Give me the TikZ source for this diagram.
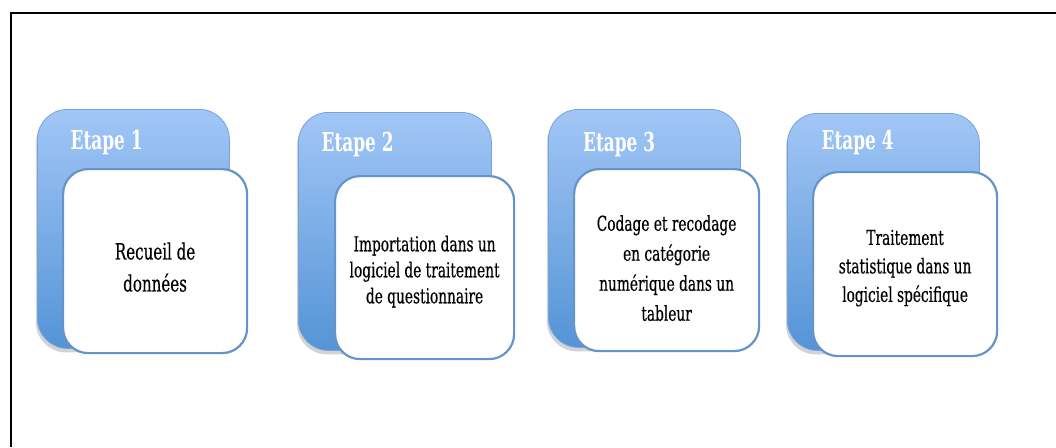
\documentclass[tikz,border=0pt]{standalone}
\usepackage{fontspec}
\setmainfont{DejaVu Serif}[FakeStretch=0.67, FakeBold=0.35]
\newfontfamily\etapefont{DejaVu Serif}[FakeStretch=0.65]
\usetikzlibrary{shadows}
\definecolor{bluetop}{RGB}{162,198,246}
\definecolor{bluebot}{RGB}{84,148,214}
\definecolor{blueedge}{RGB}{118,164,218}
\definecolor{whiteedge}{RGB}{100,148,202}
\tikzset{
  tab/.style={anchor=north west, inner sep=0pt, rounded corners=30pt,
    top color=bluetop, bottom color=bluebot, draw=blueedge, line width=0.8pt,
    drop shadow={shadow xshift=-1.5pt, shadow yshift=-4pt, opacity=0.35}},
  card/.style={anchor=north west, inner sep=0pt, rounded corners=25pt,
    fill=white, draw=whiteedge, line width=2.2pt},
  etapelabel/.style={anchor=base west, inner sep=0pt, text=white,
    font=\etapefont\fontsize{26}{26}\selectfont\bfseries},
  cardtext/.style={align=center, inner sep=0pt,
    font=\fontsize{20.5}{29}\selectfont},
  frameline/.style={line width=2pt, black}
}
\begin{document}
\begin{tikzpicture}[x=1pt, y=-1pt]
\useasboundingbox (0,0) rectangle (1056,447);
\coordinate (fr) at (1056,13);
\coordinate (fc) at (10.5,13);
\coordinate (fb) at (10.5,447);
\draw[frameline] (fr) -- (fc) -- (fb);

% Stage 1
\node[tab, minimum width=192pt, minimum height=239pt] (t1) at (37,109) {};
\node[etapelabel] (l1) at (70.5,149) {Etape 1};
\node[card, minimum width=184pt, minimum height=184pt] (c1) at (62,168) {};
\node[cardtext, font=\fontsize{22.5}{32}\selectfont] (x1) at ([yshift=-6pt]c1.center) {Recueil de\\données};

% Stage 2
\node[tab, minimum width=193pt, minimum height=238pt] (t2) at (298,112) {};
\node[etapelabel] (l2) at (321.5,151) {Etape 2};
\node[card, minimum width=179pt, minimum height=183pt] (c2) at (334,175) {};
\node[cardtext, font=\fontsize{20.5}{26}\selectfont] (x2) at ([yshift=-4pt]c2.center) {Importation dans un\\logiciel de traitement\\de questionnaire};

% Stage 3
\node[tab, minimum width=192pt, minimum height=238pt] (t3) at (548,109) {};
\node[etapelabel] (l3) at (583,151) {Etape 3};
\node[card, minimum width=185pt, minimum height=182pt] (c3) at (573,168) {};
\node[cardtext, font=\fontsize{20.5}{30}\selectfont] (x3) at ([yshift=-8pt]c3.center) {Codage et recodage\\en catégorie\\numérique dans un\\tableur};

% Stage 4
\node[tab, minimum width=192pt, minimum height=237pt] (t4) at (787,113) {};
\node[etapelabel] (l4) at (821.5,149) {Etape 4};
\node[card, minimum width=184pt, minimum height=184pt] (c4) at (812,171) {};
\node[cardtext, font=\fontsize{20.5}{28.5}\selectfont] (x4) at ([yshift=-4pt]c4.center) {Traitement\\statistique dans un\\logiciel spécifique};
\end{tikzpicture}
\end{document}
